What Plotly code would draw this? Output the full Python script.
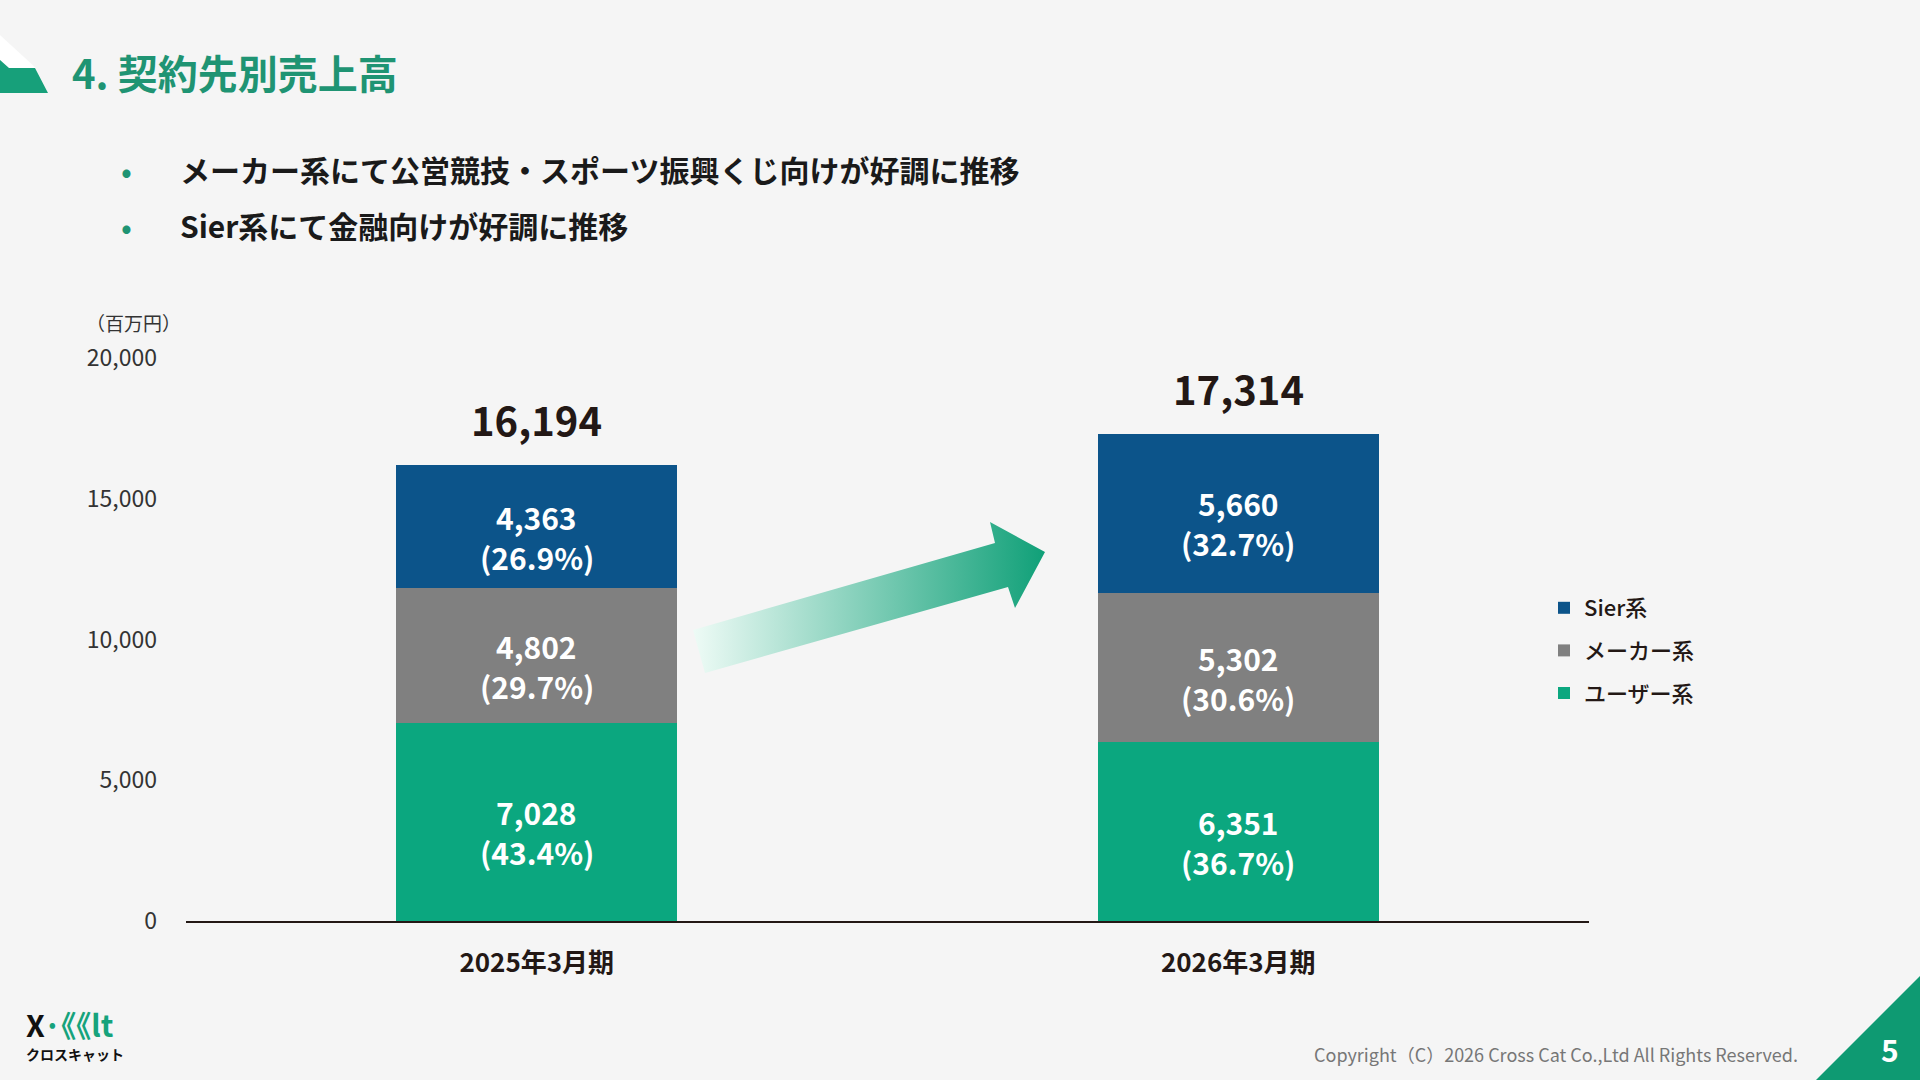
import plotly.graph_objects as go

# ---- data ----
categories = ["2025年3月期", "2026年3月期"]
user_vals = [7028, 6351]
maker_vals = [4802, 5302]
sier_vals = [4363, 5660]
user_pct = [43.4, 36.7]
maker_pct = [29.7, 30.6]
sier_pct = [26.9, 32.7]
totals = [16194, 17314]
y_ticks = [0, 5000, 10000, 15000, 20000]
y_ticklabels = ["0", "5,000", "10,000", "15,000", "20,000"]
series_names = ["ユーザー系", "メーカー系", "Sier系"]
bullets = ["メーカー系にて公営競技・スポーツ振興くじ向けが好調に推移",
           "Sier系にて金融向けが好調に推移"]

# ---- style ----
W, H = 1920, 1080
L, R, T, B = 186, 1589, 358, 921
FONT = "Noto Sans CJK JP"
BG = "#F5F5F5"
C_USER = "#0BA77F"
C_MAKER = "#808080"
C_SIER = "#0C548A"
C_TITLE = "#1F9473"
C_DARK = "#231815"


def px(x):
    return (x - L) / (R - L)


def py(y):
    return (B - y) / (B - T)


fig = go.Figure()
for rank, (name, vals, col) in enumerate([(series_names[0], user_vals, C_USER),
                                          (series_names[1], maker_vals, C_MAKER),
                                          (series_names[2], sier_vals, C_SIER)]):
    fig.add_trace(go.Bar(x=categories, y=vals, name=name, marker_color=col,
                         marker_line_width=0, width=0.4, hoverinfo="skip",
                         legendgroup=name, legendrank=1000 - rank))

# decorative gradient arrow on an overlay pixel axis
arrow_x = [693, 995, 990, 1045, 1015, 1008, 705, 693]
arrow_y = [630, 543, 522, 552, 608, 587, 673, 630]
fig.add_trace(go.Scatter(x=arrow_x, y=arrow_y, xaxis="x2", yaxis="y2",
                         mode="lines", line=dict(width=0), fill="toself",
                         fillgradient=dict(type="horizontal",
                                           colorscale=[[0, "#EEFBF6"], [1, "#10A078"]]),
                         showlegend=False, hoverinfo="skip"))

annotations = []
lab_font = dict(family=FONT, size=30, color="white", weight="bold")
# segment labels
for i, cat in enumerate(categories):
    bases = [0, user_vals[i], user_vals[i] + maker_vals[i]]
    for vals, pcts, b in [(user_vals, user_pct, bases[0]),
                          (maker_vals, maker_pct, bases[1]),
                          (sier_vals, sier_pct, bases[2])]:
        mid = b + vals[i] / 2
        annotations.append(dict(x=cat, y=mid, xref="x", yref="y", text=f"{vals[i]:,}",
                                showarrow=False, yshift=10, borderpad=0, font=lab_font))
        annotations.append(dict(x=cat, y=mid, xref="x", yref="y", text=f"({pcts[i]:.1f}%)",
                                showarrow=False, yshift=-30, borderpad=0, font=lab_font))
    annotations.append(dict(x=cat, y=totals[i], xref="x", yref="y",
                            text=f"{totals[i]:,}", showarrow=False, yshift=46,
                            font=dict(family=FONT, size=40, color=C_DARK, weight="bold")))

# title
annotations.append(dict(x=px(70), y=py(72), xref="paper", yref="paper", text="4. 契約先別売上高",
                        showarrow=False, xanchor="left", yanchor="middle",
                        font=dict(family=FONT, size=40, color=C_TITLE, weight="bold")))
# bullets
for j, (txt, yy) in enumerate(zip(bullets, [169, 225])):
    annotations.append(dict(x=px(126), y=py(yy), xref="paper", yref="paper", text="•",
                            showarrow=False, xanchor="center", yanchor="middle",
                            font=dict(family=FONT, size=32, color=C_TITLE)))
    annotations.append(dict(x=px(178), y=py(yy), xref="paper", yref="paper", text=txt,
                            showarrow=False, xanchor="left", yanchor="middle",
                            font=dict(family=FONT, size=30, color="#1A1A1A", weight="bold")))
# unit
annotations.append(dict(x=px(84), y=py(322), xref="paper", yref="paper", text="（百万円）",
                        showarrow=False, xanchor="left", yanchor="middle",
                        font=dict(family=FONT, size=19, color="#333333")))
# logo
annotations.append(dict(x=px(24), y=py(1024), xref="paper", yref="paper",
                        text="X<span style='color:#16A37C'>·《《lt</span>",
                        showarrow=False, xanchor="left", yanchor="middle",
                        font=dict(family=FONT, size=30, color="#111111", weight="bold")))
annotations.append(dict(x=px(24), y=py(1054), xref="paper", yref="paper", text="クロスキャット",
                        showarrow=False, xanchor="left", yanchor="middle",
                        font=dict(family=FONT, size=14, color="#111111", weight="bold")))
# copyright
annotations.append(dict(x=px(1800), y=py(1054), xref="paper", yref="paper",
                        text="Copyright（C）2026 Cross Cat Co.,Ltd All Rights Reserved.",
                        showarrow=False, xanchor="right", yanchor="middle",
                        font=dict(family=FONT, size=18, color="#777777")))
# page number
annotations.append(dict(x=px(1890), y=py(1049), xref="paper", yref="paper", text="5",
                        showarrow=False, xanchor="center", yanchor="middle",
                        font=dict(family=FONT, size=30, color="white", weight="bold")))


def path(points):
    s = "M " + " L ".join(f"{px(a):.5f},{py(b):.5f}" for a, b in points) + " Z"
    return s


shapes = [
    dict(type="path", xref="paper", yref="paper", layer="below",
         path=path([(0, 35), (36, 68), (9, 68), (0, 60)]),
         fillcolor="white", line=dict(width=0)),
    dict(type="path", xref="paper", yref="paper", layer="below",
         path=path([(0, 60), (9, 68), (35, 68), (48, 93), (0, 93)]),
         fillcolor="#17A07A", line=dict(width=0)),
    dict(type="path", xref="paper", yref="paper", layer="below",
         path=path([(1816, 1080), (1920, 976), (1920, 1080)]),
         fillcolor="#0E9A72", line=dict(width=0)),
]

fig.update_layout(
    width=W, height=H, autosize=False,
    margin=dict(l=L, r=W - R, t=T, b=H - B, pad=0),
    paper_bgcolor=BG, plot_bgcolor=BG,
    barmode="stack", bargap=0.6,
    font=dict(family=FONT, color=C_DARK),
    showlegend=True,
    legend=dict(x=px(1544), y=py(587), xanchor="left", yanchor="top",
                traceorder="grouped", tracegroupgap=11, itemwidth=30,
                bgcolor="rgba(0,0,0,0)",
                font=dict(family=FONT, size=22, color=C_DARK, weight=500)),
    xaxis=dict(type="category", range=[-0.5, 1.5], showline=True, linecolor=C_DARK,
               linewidth=2, ticks="", showgrid=False, zeroline=False, ticklabelstandoff=18,
               tickfont=dict(family=FONT, size=26, color=C_DARK, weight="bold"), fixedrange=True),
    yaxis=dict(range=[0, 20000], tickvals=y_ticks, ticktext=y_ticklabels, showgrid=False,
               zeroline=False, showline=False, ticks="", ticklabelstandoff=28,
               tickfont=dict(family=FONT, size=23, color="#333333"), fixedrange=True),
    xaxis2=dict(overlaying="x", range=[L, R], visible=False, fixedrange=True),
    yaxis2=dict(overlaying="y", range=[B, T], visible=False, fixedrange=True),
    annotations=annotations,
    shapes=shapes,
)

fig.write_html("out.html", config={"displayModeBar": False})
